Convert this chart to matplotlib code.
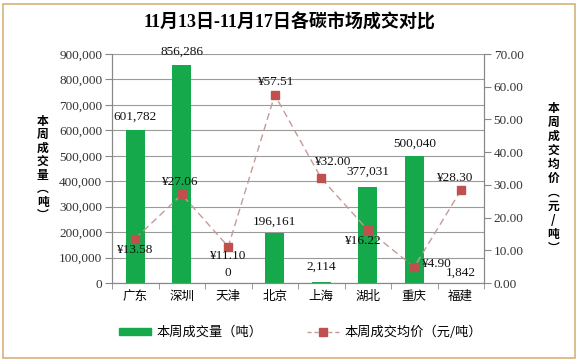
import matplotlib
matplotlib.use("Agg")
import matplotlib.pyplot as plt
from matplotlib.patches import Rectangle, Patch
from matplotlib.lines import Line2D
import numpy as np

plt.rcParams['font.family'] = ['Liberation Serif', 'Noto Sans CJK SC', 'DejaVu Sans']

categories = ["广东", "深圳", "天津", "北京", "上海", "湖北", "重庆", "福建"]
volume = [601782, 856286, 0, 196161, 2114, 377031, 500040, 1842]
price = [13.58, 27.06, 11.10, 57.51, 32.00, 16.22, 4.90, 28.30]
vol_labels = ["601,782", "856,286", "0", "196,161", "2,114", "377,031", "500,040", "1,842"]
price_labels = ["¥13.58", "¥27.06", "¥11.10", "¥57.51", "¥32.00", "¥16.22", "¥4.90", "¥28.30"]
left_ticks = [0, 100000, 200000, 300000, 400000, 500000, 600000, 700000, 800000, 900000]
left_ticklabels = ["0", "100,000", "200,000", "300,000", "400,000", "500,000",
                   "600,000", "700,000", "800,000", "900,000"]
right_ticks = [0, 10, 20, 30, 40, 50, 60, 70]
right_ticklabels = ["0.00", "10.00", "20.00", "30.00", "40.00", "50.00", "60.00", "70.00"]
title = "11月13日-11月17日各碳市场成交对比"
left_label = "本周成交量︵吨︶"
right_label = "本周成交均价︵元/吨︶"
legend_bar = "本周成交量（吨）"
legend_line = "本周成交均价（元/吨）"

# label offsets (points) : style only
vol_off = [(0, 5), (0, 5), (0, 3), (0, 4), (0, 7), (0, 7), (0, 4), (0, 3)]
price_off = [(-1, -8), (-2, 9), (-1, -7), (0, 9), (8, 12), (-4, -8), (5, 2), (-5, 9)]
price_ha = ["center", "center", "center", "center", "center", "center", "left", "center"]

fig = plt.figure(figsize=(5.78, 3.62), dpi=100)
fig.patches.append(Rectangle((0.006, 0.012), 0.988, 0.978, transform=fig.transFigure,
                             fill=False, edgecolor="#d6b27c", linewidth=1.2))

ax = fig.add_axes([0.1938, 0.2182, 0.6436, 0.6326])
ax2 = ax.twinx()

x = np.arange(len(categories))
green = "#16a94b"
ax.bar(x, volume, width=0.4, color=green, zorder=2)
ax.set_ylim(0, 900000)
ax.set_xlim(-0.5, len(categories) - 0.5)
ax.set_yticks(left_ticks)
ax.set_yticklabels(left_ticklabels, fontsize=9.5, color="#333333")
ax.yaxis.grid(True, color="#9a9a9a", linewidth=0.8, zorder=0)
ax.set_axisbelow(True)
ax.set_xticks(x)
ax.set_xticklabels(categories, fontsize=9, family=['Noto Sans CJK SC'])
ax.set_xticks(np.arange(-0.5, len(categories), 1), minor=True)
ax.tick_params(axis='x', which='major', length=0, pad=5)
ax.tick_params(axis='x', which='minor', length=4, color="#888888", direction='out')
ax.tick_params(axis='y', length=5, color="#888888", direction='out', pad=2)

for i, (v, lab) in enumerate(zip(volume, vol_labels)):
    ax.annotate(lab, (x[i], v), xytext=vol_off[i], textcoords='offset points',
                ha='center', va='bottom', fontsize=9.5, color="#111111", zorder=5)

ax2.plot(x, price, linestyle=(0, (5, 3)), color="#c49a9a", linewidth=1.0,
         marker='s', markersize=6, markerfacecolor="#c0504d", markeredgecolor="#c0504d", zorder=4)
ax2.set_ylim(0, 70)
ax2.set_yticks(right_ticks)
ax2.set_yticklabels(right_ticklabels, fontsize=9.5, color="#333333")
ax2.tick_params(axis='y', length=5, color="#888888", direction='out', pad=2)

for i, (p, lab) in enumerate(zip(price, price_labels)):
    ax2.annotate(lab, (x[i], p), xytext=price_off[i], textcoords='offset points',
                 ha=price_ha[i], va='center', fontsize=9.5, color="#111111", zorder=6)

for a in (ax, ax2):
    a.spines['top'].set_visible(False)
    for s in ('left', 'right', 'bottom'):
        a.spines[s].set_color("#888888")
        a.spines[s].set_linewidth(0.8)

fig.text(0.5, 0.938, title, ha='center', va='center', fontsize=13, fontweight='bold')

fig.text(0.074, 0.535, "\n".join(left_label), ha='center', va='center', fontsize=8.5,
         fontweight='bold', linespacing=1.05, family=['Noto Sans CJK SC'])
fig.text(0.957, 0.508, "\n".join(right_label), ha='center', va='center', fontsize=8.5,
         fontweight='bold', linespacing=1.1, family=['Noto Sans CJK SC'])

handles = [Patch(facecolor=green, edgecolor=green),
           Line2D([0], [0], linestyle=(0, (3, 2)), color="#c49a9a", linewidth=1.0,
                  marker='s', markersize=6, markerfacecolor="#c0504d", markeredgecolor="#c0504d")]
fig.legend(handles, [legend_bar, legend_line], loc='center', bbox_to_anchor=(0.52, 0.082),
           ncol=2, frameon=False, handlelength=2.4, handleheight=0.5, columnspacing=3.4,
           handletextpad=0.4, prop={'family': ['Noto Sans CJK SC'], 'size': 9.5})

fig.savefig("out.png", dpi=100)
